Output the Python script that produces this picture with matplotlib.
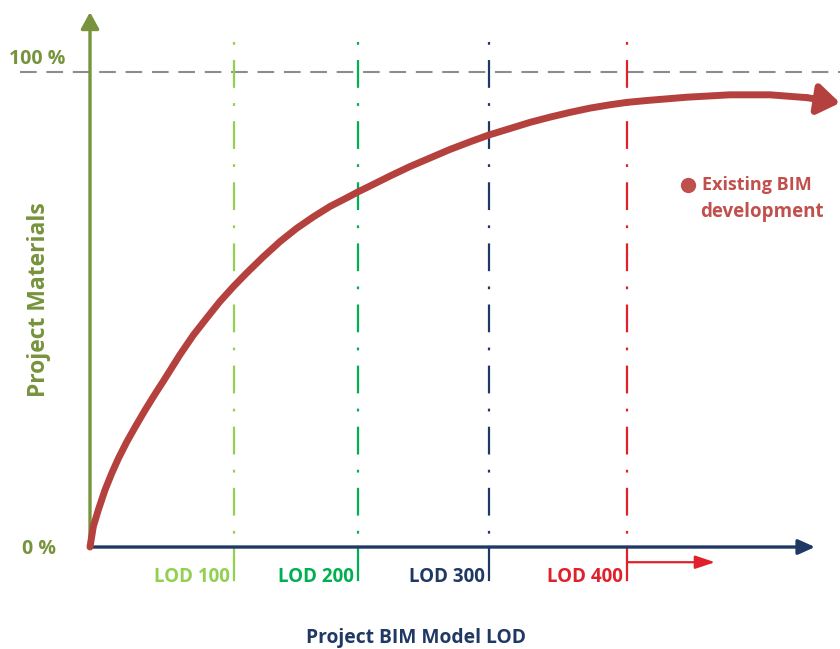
import matplotlib
matplotlib.use("Agg")
import matplotlib.pyplot as plt

plt.rcParams['lines.scale_dashes'] = False
plt.rcParams['font.family'] = ['Open Sans', 'DejaVu Sans']

# BIM development curve: project materials (%) against model progress
curve_x = [0, 3.3, 8.3, 15, 21.7, 28.3, 36.7, 45, 55, 65, 73.3, 90, 103.3,
           116.7, 130, 143.3, 156.7, 173.3, 190, 206.7, 223.3, 240, 256.7,
           268.3, 280, 300, 320, 340, 360, 380, 398.3, 420, 440, 460, 480,
           500, 520, 536.7, 556.7, 597, 640, 680, 717]
curve_y = [0, 4.3, 7.8, 12.0, 15.5, 18.6, 22.1, 25.2, 28.8, 32.2, 34.9, 40.5,
           44.6, 48.2, 51.7, 54.8, 57.7, 61.1, 64.3, 67.1, 69.5, 71.7, 73.5,
           74.8, 76.0, 78.1, 80.1, 81.9, 83.7, 85.3, 86.7, 88.1, 89.4, 90.5,
           91.5, 92.4, 93.1, 93.6, 94.0, 94.7, 95.2, 95.2, 94.6]
curve_tip = (750, 93.5)

lod_labels = ['LOD 100', 'LOD 200', 'LOD 300', 'LOD 400']
lod_x = [144, 268, 399, 537]
lod_colors = ['#92D050', '#00B050', '#1F3864', '#E0202A']

full_level = 100
y_ticks = [0, 100]
y_tick_labels = ['0 %', '100 %']

green = '#77933C'
navy = '#1F3864'
curve_red = '#B5413F'
legend_red = '#C0504D'

fig = plt.figure(figsize=(8.4, 6.49), dpi=100)
ax = fig.add_axes([0, 0, 1, 1])
ax.set_xlim(-90, 750)
ax.set_ylim(-21.47, 115.16)
ax.axis('off')

# 100 % reference line
ax.plot([-70, 750], [full_level, full_level], color='#8C8C8C', lw=1.5,
        linestyle=(0, (12, 7)), zorder=1)

# LOD stage markers: dash-dot above the axis, solid tick below
for xv, col in zip(lod_x, lod_colors):
    ax.plot([xv, xv], [106.3, 0], color=col, lw=1.6,
            linestyle=(0, (2, 11, 20, 11)), zorder=2)
    ax.plot([xv, xv], [0, -6.9], color=col, lw=1.6, zorder=2)

for lab, xv, col in zip(lod_labels, lod_x, lod_colors):
    ax.text(xv - 4, -6.3, lab, color=col, fontsize=13.5, fontweight='bold',
            ha='right', va='center')

# Arrow beyond LOD 400
ax.annotate('', xy=(625, -3.2), xytext=(lod_x[3], -3.2),
            arrowprops=dict(arrowstyle='-|>,head_length=12,head_width=4',
                            mutation_scale=1, color=lod_colors[3], lw=1.6,
                            shrinkA=0, shrinkB=0))

# Axes with arrow heads
ax.annotate('', xy=(0, 112.6), xytext=(0, 0),
            arrowprops=dict(arrowstyle='-|>,head_length=10,head_width=5.5',
                            mutation_scale=1, color=green, lw=2.4,
                            shrinkA=0, shrinkB=0), zorder=4)
ax.annotate('', xy=(725, 0), xytext=(0, 0),
            arrowprops=dict(arrowstyle='-|>,head_length=10,head_width=4.5',
                            mutation_scale=1, color=navy, lw=2.4,
                            shrinkA=0, shrinkB=0), zorder=4)

# Development curve
ax.plot(curve_x, curve_y, color=curve_red, lw=5, solid_capstyle='round',
        solid_joinstyle='round', zorder=5)
ax.annotate('', xy=curve_tip, xytext=(curve_x[-1], curve_y[-1]),
            arrowprops=dict(arrowstyle='-|>,head_length=13,head_width=9',
                            mutation_scale=1, color=curve_red, lw=5,
                            shrinkA=0, shrinkB=0), zorder=5)

# Tick labels on the vertical axis
ax.text(-81, y_ticks[1] + 2.7, y_tick_labels[1], color=green, fontsize=14,
        fontweight='bold', ha='left', va='center')
ax.text(-68, y_ticks[0] - 0.4, y_tick_labels[0], color=green, fontsize=14,
        fontweight='bold', ha='left', va='center')

# Axis titles
ax.text(-51, 52, 'Project Materials', color=green, fontsize=16.5,
        fontweight='bold', rotation=90, ha='center', va='center')
ax.text(326, -19.1, 'Project BIM Model LOD', color=navy, fontsize=13.9,
        fontweight='bold', ha='center', va='center')

# Legend entry
ax.plot([598], [76.2], 'o', color=legend_red, markersize=10)
ax.text(612, 76.2, 'Existing BIM', color=legend_red, fontsize=13,
        fontweight='bold', ha='left', va='center')
ax.text(610, 70.5, 'development', color=legend_red, fontsize=13.5,
        fontweight='bold', ha='left', va='center')

fig.savefig('out.png', dpi=100)
